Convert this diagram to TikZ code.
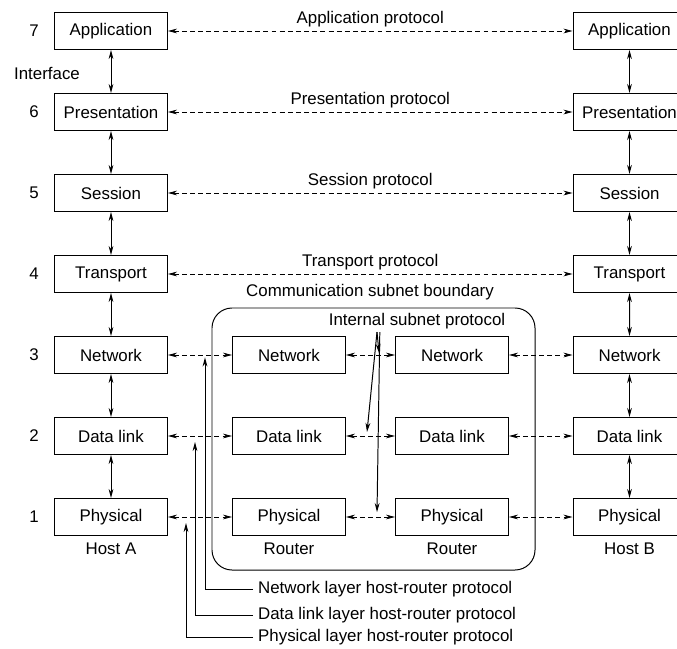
\documentclass[tikz,border=0pt]{standalone}
\usepackage{fontspec}
\setmainfont{Liberation Sans}
\usetikzlibrary{positioning,arrows.meta}

\begin{document}
\begin{tikzpicture}[line width=0.7pt, >={Stealth[length=6.5pt,width=3.4pt]},
        font=\fontsize{12}{14}\selectfont,
        layer/.style={draw, on grid, minimum width=2.825cm, minimum height=0.925cm, inner sep=0pt},
        proto/.style={<->, line width=0.6pt, dash pattern=on 3.5pt off 2.3pt},
        iface/.style={<->}
        ]
        \useasboundingbox (0,0) rectangle (16.925,-16.2);

        % host A
        \node [layer] (a7) at (2.775,-0.775) {Application};
        \node [layer] (a6) [below=2.025cm of a7] {Presentation};
        \node [layer] (a5) [below=2.025cm of a6] {Session};
        \node [layer] (a4) [below=2.025cm of a5] {Transport};
        \node [layer] (a3) [below=2.025cm of a4] {Network};
        \node [layer] (a2) [below=2.025cm of a3] {Data link};
        \node [layer] (a1) [below=2.025cm of a2] {Physical};

        % routers
        \node [layer] (r3) [right=4.45cm of a3] {Network};
        \node [layer] (r2) [right=4.45cm of a2] {Data link};
        \node [layer] (r1) [right=4.45cm of a1] {Physical};
        \node [layer] (s3) [right=4.075cm of r3] {Network};
        \node [layer] (s2) [right=4.075cm of r2] {Data link};
        \node [layer] (s1) [right=4.075cm of r1] {Physical};

        % host B
        \node [layer] (b7) [right=12.9625cm of a7] {Application};
        \node [layer] (b6) [right=12.9625cm of a6] {Presentation};
        \node [layer] (b5) [right=12.9625cm of a5] {Session};
        \node [layer] (b4) [right=12.9625cm of a4] {Transport};
        \node [layer] (b3) [right=4.4375cm of s3] {Network};
        \node [layer] (b2) [right=4.4375cm of s2] {Data link};
        \node [layer] (b1) [right=4.4375cm of s1] {Physical};

        \foreach \n in {1,...,7}
            \node (n\n) [left=0.25cm of a\n] {\n};
        \node (iface) at (1.175,-1.825) {Interface};

        \node (ha) [below=0.05cm of a1] {Host A};
        \node (ra) [below=0.05cm of r1] {Router};
        \node (rb) [below=0.05cm of s1] {Router};
        \node (hb) [below=0.05cm of b1] {Host B};

        \foreach \u/\l in {7/6,6/5,5/4,4/3,3/2,2/1} {
            \draw [iface] (a\u) -- (a\l);
            \draw [iface] (b\u) -- (b\l);
        }

        % peer protocols
        \path
        (a7) edge [proto] node [above=-1pt] {Application protocol} (b7)
        (a6) edge [proto] node [above=-1pt] {Presentation protocol} (b6)
        (a5) edge [proto] node [above=-1pt] {Session protocol} (b5)
        (a4) edge [proto] node [above=-1pt] {Transport protocol} (b4)
        ;
        \foreach \n in {1,2,3} {
            \draw [proto] (a\n) -- (r\n);
            \draw [proto] (r\n) -- (s\n);
            \draw [proto] (s\n) -- (b\n);
        }

        % subnet
        \draw [rounded corners=0.5cm] (5.3,-7.7) rectangle (13.375,-14.25);
        \node (csb) at (9.25,-7.3) {Communication subnet boundary};
        \node (isp) at (10.425,-8.025) {Internal subnet protocol};
        \coordinate (isp1) at ([xshift=-1cm,yshift=0.05cm]isp.south);
        \draw [->] (isp1) -- ([xshift=-0.4cm,yshift=0.05cm]s3.west);
        \draw [->] (isp1) -- ([xshift=-0.7cm,yshift=0.1cm]s2.west);
        \draw [->] ([xshift=0.07cm]isp1) -- ([xshift=-0.45cm,yshift=0.12cm]s1.west);

        % host-router protocols
        \node (nl) [anchor=west] at (6.325,-14.725) {Network layer host-router protocol};
        \node (dl) [anchor=west] at (6.325,-15.375) {Data link layer host-router protocol};
        \node (pl) [anchor=west] at (6.325,-15.925) {Physical layer host-router protocol};
        \coordinate (hn) at ([xshift=0.925cm,yshift=-0.06cm]a3.east);
        \coordinate (hd) at ([xshift=0.675cm,yshift=-0.15cm]a2.east);
        \coordinate (hp) at ([xshift=0.45cm,yshift=-0.15cm]a1.east);
        \draw [->] (nl.west) -| (hn);
        \draw [->] (dl.west) -| (hd);
        \draw [->] (pl.west) -| (hp);
\end{tikzpicture}
\end{document}
